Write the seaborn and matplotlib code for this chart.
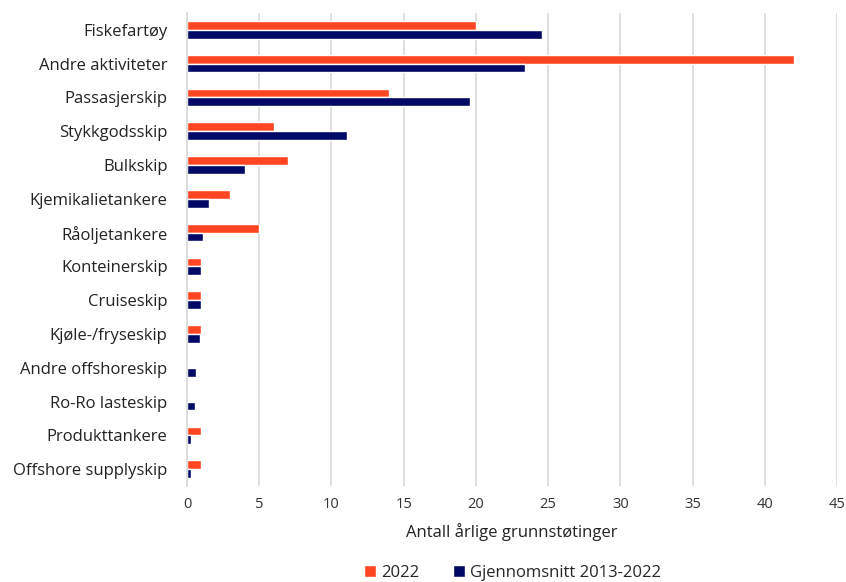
import matplotlib
matplotlib.use("Agg")
import matplotlib.pyplot as plt
import seaborn as sns
import pandas as pd

categories = ["Fiskefartøy", "Andre aktiviteter", "Passasjerskip", "Stykkgodsskip",
              "Bulkskip", "Kjemikalietankere", "Råoljetankere", "Konteinerskip",
              "Cruiseskip", "Kjøle-/fryseskip", "Andre offshoreskip", "Ro-Ro lasteskip",
              "Produkttankere", "Offshore supplyskip"]
values_2022 = [20, 42, 14, 6, 7, 3, 5, 1, 1, 1, 0, 0, 1, 1]
values_avg = [24.6, 23.4, 19.6, 11.1, 4.0, 1.5, 1.1, 1.0, 1.0, 0.9, 0.65, 0.55, 0.25, 0.25]
series_names = ["2022", "Gjennomsnitt 2013-2022"]
x_ticks = [0, 5, 10, 15, 20, 25, 30, 35, 40, 45]
x_label = "Antall årlige grunnstøtinger"

df = pd.DataFrame({
    "kategori": categories * 2,
    "verdi": values_2022 + values_avg,
    "serie": [series_names[0]] * len(categories) + [series_names[1]] * len(categories),
})

sns.set_theme(style="white")
plt.rcParams["font.family"] = ["Open Sans", "DejaVu Sans"]

fig = plt.figure(figsize=(8.46, 5.82), dpi=100)
ax = fig.add_axes([187 / 846, 1 - 486 / 582, (837 - 187) / 846, (486 - 13) / 582])

sns.barplot(data=df, x="verdi", y="kategori", hue="serie", orient="h",
            palette=["#FF4521", "#000A66"], width=0.52, ax=ax,
            order=categories, hue_order=series_names, saturation=1, legend=True)

ax.set_xlim(0, 45)
ax.set_ylim(len(categories) - 0.5, -0.5)
ax.set_xticks(x_ticks)
ax.set_xticklabels([str(t) for t in x_ticks], fontsize=10.5, color="#333333")
ax.tick_params(axis="y", labelsize=12, colors="#222222", length=0, pad=14)
ax.tick_params(axis="x", length=0, pad=8)
ax.set_ylabel("")
ax.set_xlabel(x_label, fontsize=12, color="#222222", labelpad=8)
ax.grid(axis="x", color="#D9D9D9", linewidth=1.2)
ax.set_axisbelow(True)
for s in ["top", "right", "bottom"]:
    ax.spines[s].set_visible(False)
ax.spines["left"].set_color("#D9D9D9")
ax.spines["left"].set_linewidth(1.2)

handles, labels = ax.get_legend_handles_labels()
ax.legend_.remove()
fig.legend(handles, labels, loc="center", bbox_to_anchor=(0.606, 1 - 573 / 582),
           ncol=2, frameon=False, fontsize=12, handlelength=0.75, handleheight=0.75,
           handletextpad=0.3, columnspacing=2.0)

fig.savefig("out.png", dpi=100)
